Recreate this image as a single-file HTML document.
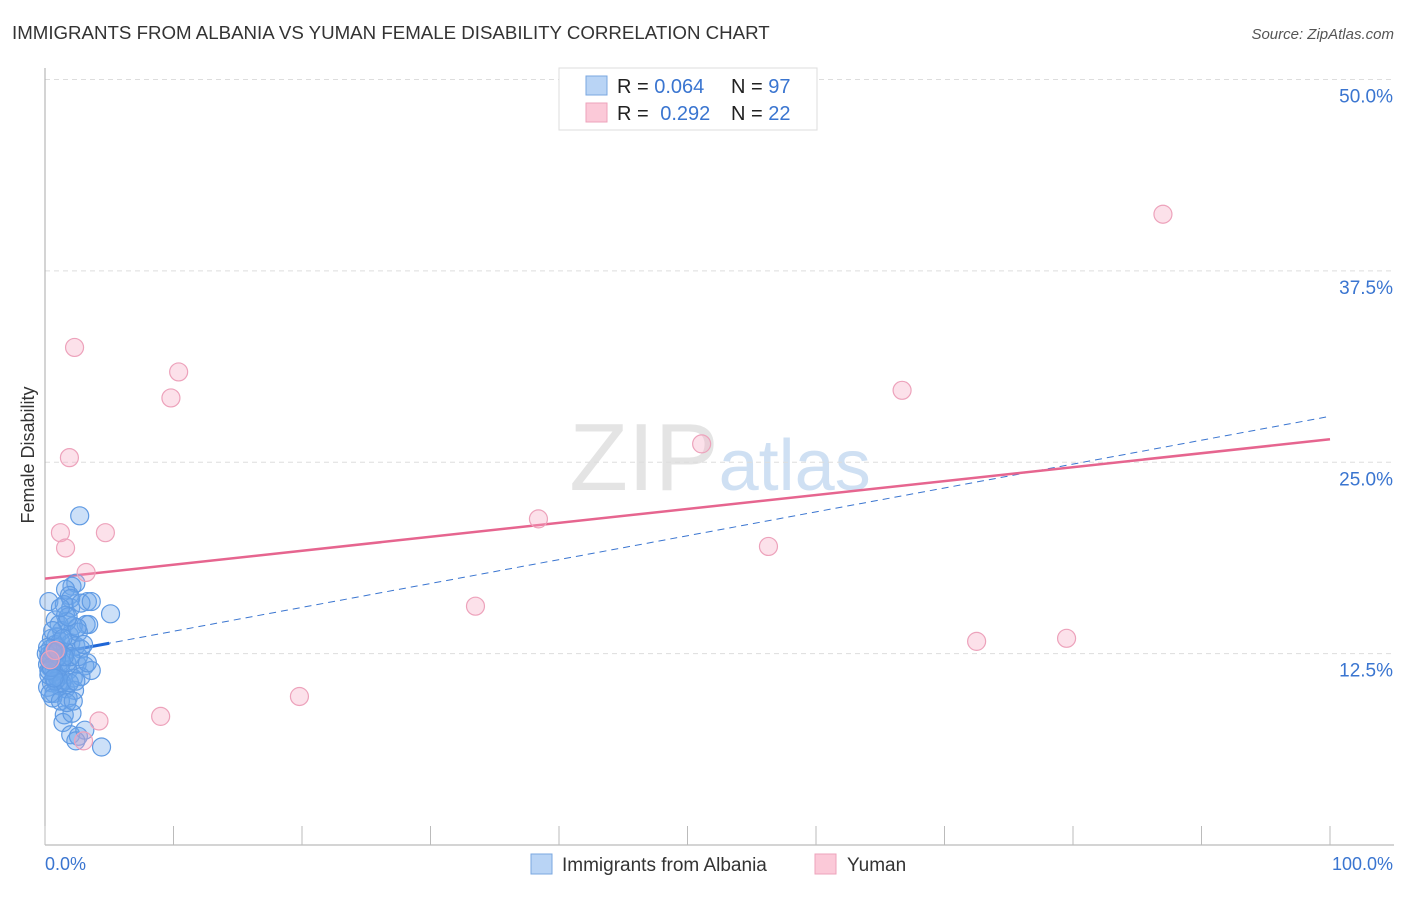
<!DOCTYPE html>
<html><head><meta charset="utf-8"><style>
body{margin:0;background:#fff;font-family:"Liberation Sans",sans-serif;}
svg text{font-family:"Liberation Sans",sans-serif;}
</style></head><body>
<svg id="chart" width="1406" height="892" xmlns="http://www.w3.org/2000/svg">
<text x="12" y="39" font-size="18.7" fill="#333">IMMIGRANTS FROM ALBANIA VS YUMAN FEMALE DISABILITY CORRELATION CHART</text>
<text x="1394" y="39" font-size="15" fill="#555" font-style="italic" text-anchor="end">Source: ZipAtlas.com</text>
<text x="720" y="490" font-size="96" text-anchor="middle" fill="#e4e4e4" font-family="Liberation Serif">ZIP<tspan fill="#cfe0f3" font-family="Liberation Sans" font-size="72">atlas</tspan></text>
<text transform="translate(34,455) rotate(-90)" font-size="18" fill="#333" text-anchor="middle">Female Disability</text>
<g id="grid"></g>
<g id="axes"></g>
<g id="lines"></g>
<g id="pts"></g>
<g>
<rect x="559" y="68" width="258" height="62" fill="#fff" stroke="#ddd"/>
<rect x="586" y="76" width="21" height="19" fill="#b9d4f5" stroke="#7aa7e0"/>
<rect x="586" y="103" width="21" height="19" fill="#fbc9d8" stroke="#eea3bb"/>
<text x="617" y="93" font-size="20" fill="#222">R = <tspan fill="#3a75d0">0.064</tspan></text>
<text x="731" y="93" font-size="20" fill="#222">N = <tspan fill="#3a75d0">97</tspan></text>
<text x="617" y="120" font-size="20" fill="#222">R = <tspan fill="#3a75d0" dx="6">0.292</tspan></text>
<text x="731" y="120" font-size="20" fill="#222">N = <tspan fill="#3a75d0">22</tspan></text>
</g>
<g>
<rect x="531" y="854" width="21" height="20" fill="#b9d4f5" stroke="#7aa7e0"/>
<text x="562" y="871" font-size="19" fill="#333">Immigrants from Albania</text>
<rect x="815" y="854" width="21" height="20" fill="#fbc9d8" stroke="#eea3bb"/>
<text x="847" y="871" font-size="19" fill="#333">Yuman</text>
</g>
</svg>
<script>
const yTicks=[12.5,25,37.5,50];
const yTickLabels=["12.5%","25.0%","37.5%","50.0%"];
const xTickLabels=["0.0%","100.0%"];
const albaniaX=[2.7,5.1,4.4,0.3,2.1,2.4,1.6,1.9,3.3,3.2,3.4,1.5,2.0,1.6,0.8,2.2,1.3,0.9,0.5,2.0,2.4,2.8,1.0,1.6,0.3,0.6,1.2,0.2,0.4,1.0,1.8,2.5,3.1,3.6,0.9,1.4,2.2,0.5,1.1,1.6,2.3,0.2,0.7,1.8,0.6,1.5,1.4,2.1,2.0,2.6,3.1,2.4,0.8,1.2,0.4,0.9,1.3,0.7,0.3,1.7,2.0,2.6,1.9,2.6,3.0,1.1,1.7,2.5,0.6,1.4,0.2,0.5,1.0,1.3,0.8,2.8,3.3,0.4,1.2,0.9,1.5,0.1,0.6,0.3,1.9,2.4,1.7,2.2,2.0,2.8,1.8,3.6,1.2,0.5,0.3,0.7,1.0];
const albaniaY=[21.5,15.1,6.4,15.9,16.9,17.1,16.7,16.3,15.9,14.4,14.4,15.7,15.5,15.0,14.7,14.3,14.0,13.6,13.5,13.2,13.0,12.8,12.9,12.6,12.4,12.2,12.0,11.8,11.6,11.5,11.4,11.8,11.7,11.4,11.0,10.8,10.9,10.6,10.4,10.2,10.1,10.3,9.9,9.6,9.6,8.5,8.0,8.6,7.2,7.1,7.5,6.8,13.1,13.3,12.8,12.5,11.9,11.3,11.1,11.9,12.3,12.3,13.7,13.9,13.1,14.4,14.6,14.2,14.0,13.5,12.9,12.0,10.9,10.6,10.7,11.0,11.9,9.9,9.4,12.2,12.3,12.5,12.6,11.4,10.6,10.7,9.3,9.4,16.1,15.8,14.9,15.9,15.5,11.6,12.1,10.9,12.7];
const yumanX=[2.3,10.4,9.8,1.9,51.1,66.7,87.0,1.2,4.7,1.6,38.4,56.3,3.2,33.5,72.5,79.5,19.8,9.0,4.2,3.0,0.4,0.8];
const yumanY=[32.5,30.9,29.2,25.3,26.2,29.7,41.2,20.4,20.4,19.4,21.3,19.5,17.8,15.6,13.3,13.5,9.7,8.4,8.1,6.8,12.1,12.7];
const yumanTrend=[17.4,26.5];
const albaniaTrend=[12.4,28.0];
const X=p=>45+p*12.85, Y=v=>845-v*15.31;
const NS="http://www.w3.org/2000/svg";
function mk(t,a,parent){const e=document.createElementNS(NS,t);for(const k in a)e.setAttribute(k,a[k]);parent.appendChild(e);return e;}
const grid=document.getElementById('grid'),axes=document.getElementById('axes'),pts=document.getElementById('pts'),lines=document.getElementById('lines');
yTicks.forEach((v,i)=>{
 const g=mk('line',{x1:45,x2:1394,y1:Y(v),y2:Y(v),stroke:'#ddd','stroke-dasharray':'5,4'},grid);
 
 
 const t=mk('text',{x:1393,y:Y(v)+23,'font-size':19,fill:'#3a75d0','text-anchor':'end'},axes);
 t.textContent=yTickLabels[i];
 
 
});
mk('line',{x1:45,x2:45,y1:68,y2:845,stroke:'#aaa'},axes);
mk('line',{x1:45,x2:1394,y1:845,y2:845,stroke:'#aaa'},axes);
for(let i=0;i<=10;i++){const l=mk('line',{x1:X(i*10),x2:X(i*10),y1:826,y2:845,stroke:'#bbb'},axes);
 
 }
const xl0=mk('text',{x:45,y:870,'font-size':18,fill:'#3a75d0'},axes);xl0.textContent=xTickLabels[0];


const xl1=mk('text',{x:1393,y:870,'font-size':18,fill:'#3a75d0','text-anchor':'end'},axes);xl1.textContent=xTickLabels[1];


albaniaX.forEach((x,i)=>{const c=mk('circle',{cx:X(x),cy:Y(albaniaY[i]),r:9,fill:'rgba(110,165,235,0.35)',stroke:'#5f9ae3','stroke-width':1.2},pts);
 
 });
yumanX.forEach((x,i)=>{const c=mk('circle',{cx:X(x),cy:Y(yumanY[i]),r:9,fill:'rgba(245,170,195,0.35)',stroke:'#eda2bb','stroke-width':1.2},pts);
 
 });
const ab=(p)=>albaniaTrend[0]+(albaniaTrend[1]-albaniaTrend[0])*p/100;
const l1=mk('line',{x1:X(0),y1:Y(ab(0)),x2:X(100),y2:Y(ab(100)),stroke:'#3a75d0','stroke-width':1,'stroke-dasharray':'7,5'},lines);


const l2=mk('line',{x1:X(0),y1:Y(ab(0)),x2:X(5),y2:Y(ab(5)),stroke:'#1f66d6','stroke-width':3},lines);


const l3=mk('line',{x1:X(0),y1:Y(yumanTrend[0]),x2:X(100),y2:Y(yumanTrend[1]),stroke:'#e6658f','stroke-width':2.5},lines);


</script>
</body></html>
